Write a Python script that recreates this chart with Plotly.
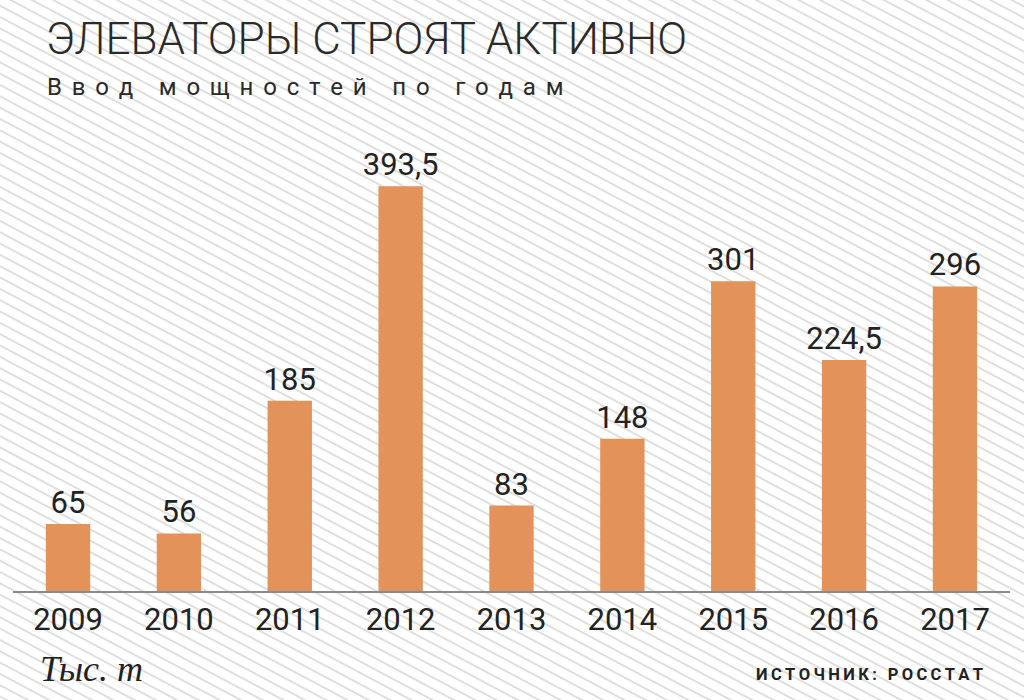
import base64
import plotly.graph_objects as go

years = ["2009", "2010", "2011", "2012", "2013", "2014", "2015", "2016", "2017"]
capacity = [65, 56, 185, 393.5, 83, 148, 301, 224.5, 296]

title_text = "ЭЛЕВАТОРЫ СТРОЯТ АКТИВНО"
subtitle_text = "Ввод мощностей по годам"
unit_text = "Тыс. т"
source_text = "ИСТОЧНИК: РОССТАТ"

W, H = 1024, 700
SANS = "Roboto, Liberation Sans, sans-serif"

def fmt(v):
    return (f"{v:g}").replace(".", ",")

def spaced(s, gap, word):
    return (gap + word + gap).join(gap.join(list(w)) for w in s.split(" "))

svg = f'''<svg xmlns="http://www.w3.org/2000/svg" width="{W}" height="{H}" viewBox="0 0 {W} {H}">
<defs><pattern id="p" width="40" height="10" patternUnits="userSpaceOnUse" patternTransform="rotate(28)">
<line x1="-5" y1="5" x2="45" y2="5" stroke="#d4d4d4" stroke-width="1.5"/></pattern></defs>
<rect width="{W}" height="{H}" fill="#ffffff"/>
<rect width="{W}" height="{H}" fill="url(#p)"/>
</svg>'''
bg_src = "data:image/svg+xml;base64," + base64.b64encode(svg.encode()).decode()

fig = go.Figure()
fig.add_trace(go.Bar(
    x=years, y=capacity,
    marker=dict(color="#E3925A", line=dict(width=0)),
    width=0.4,
    text=[fmt(v) for v in capacity],
    textposition="outside",
    constraintext="none",
    textfont=dict(family=SANS, size=31, color="#222222"),
    cliponaxis=False,
))

fig.update_layout(
    width=W, height=H,
    margin=dict(l=0, r=0, t=0, b=0),
    paper_bgcolor="#ffffff",
    plot_bgcolor="rgba(0,0,0,0)",
    showlegend=False,
    images=[dict(source=bg_src, xref="paper", yref="paper", x=0, y=1,
                 sizex=1, sizey=1, sizing="stretch", layer="below",
                 xanchor="left", yanchor="top")],
    xaxis=dict(domain=[12.6 / W, 1010.4 / W], showgrid=False, zeroline=False,
               showline=True, linecolor="#8a8a8a", linewidth=2,
               ticks="", ticklabelstandoff=0,
               tickfont=dict(family=SANS, size=31, color="#222222"),
               fixedrange=True),
    yaxis=dict(domain=[(H - 591) / H, (H - 128) / H], range=[0, 450],
               showgrid=False, zeroline=False, showline=False,
               showticklabels=False, fixedrange=True),
)

fig.add_annotation(text=title_text, xref="paper", yref="paper",
                   x=44 / W, y=1 - 39 / H, xanchor="left", yanchor="middle",
                   showarrow=False,
                   font=dict(family=SANS, size=44, weight=300, color="#2a2a2a"))
fig.add_annotation(text=spaced(subtitle_text, "\u2009\u2009", " "), xref="paper", yref="paper",
                   x=45 / W, y=1 - 87 / H, xanchor="left", yanchor="middle",
                   showarrow=False,
                   font=dict(family=SANS, size=24, color="#2a2a2a"))
fig.add_annotation(text=unit_text, xref="paper", yref="paper",
                   x=38 / W, y=1 - 669 / H, xanchor="left", yanchor="middle",
                   showarrow=False,
                   font=dict(family="Liberation Serif, DejaVu Serif, serif",
                             size=36, style="italic", color="#222222"))
fig.add_annotation(text=spaced(source_text, "\u2009", " "), xref="paper", yref="paper",
                   x=985 / W, y=1 - 674 / H, xanchor="right", yanchor="middle",
                   showarrow=False,
                   font=dict(family=SANS, size=16.5, weight="bold", color="#222222"))

fig.write_html("out.html")
